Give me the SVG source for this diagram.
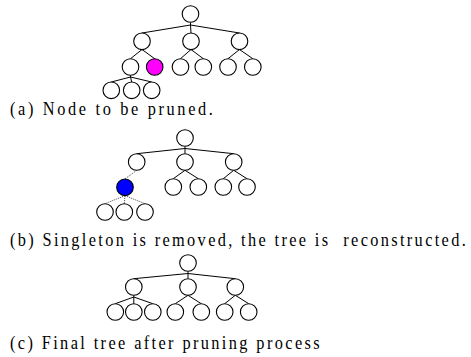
<svg xmlns="http://www.w3.org/2000/svg" width="471" height="357" viewBox="0 0 471 357">
<style>
.n{fill:#fff;stroke:#000;stroke-width:1.1}
.c line{stroke:#000;stroke-width:1}
.c line.d{stroke:#444;stroke-width:0.9;stroke-dasharray:1.2 1}
.cap{font-family:'Liberation Serif','Times New Roman',serif;font-size:19px;fill:#000}
</style>
<rect width="471" height="357" fill="#fff"/>
<g id="connectors" class="c">
<line x1="190.5" y1="22.5" x2="190.5" y2="25"/>
<line x1="190.5" y1="25" x2="142" y2="33"/>
<line x1="190.5" y1="25" x2="191" y2="33"/>
<line x1="190.5" y1="25" x2="239.5" y2="33"/>
<line x1="142" y1="49.5" x2="130.5" y2="58.7"/>
<line x1="142" y1="49.5" x2="154.7" y2="58.7"/>
<line x1="191" y1="49.5" x2="180.5" y2="58.7"/>
<line x1="191" y1="49.5" x2="203.3" y2="58.7"/>
<line x1="239.5" y1="49.5" x2="228" y2="58.7"/>
<line x1="239.5" y1="49.5" x2="252.8" y2="58.7"/>
<line x1="130.5" y1="75.3" x2="130.5" y2="77"/>
<line x1="130.5" y1="77" x2="111.3" y2="82"/>
<line x1="130.5" y1="77" x2="131.7" y2="82"/>
<line x1="130.5" y1="77" x2="151.7" y2="82"/>
<line x1="185" y1="146.3" x2="185" y2="148.5"/>
<line x1="185" y1="148.5" x2="136.7" y2="153.7"/>
<line x1="185" y1="148.5" x2="185" y2="153.7"/>
<line x1="185" y1="148.5" x2="233.7" y2="153.7"/>
<line class="d" x1="136.7" y1="170.3" x2="125" y2="179"/>
<line x1="185" y1="170.3" x2="173.3" y2="178.7"/>
<line x1="185" y1="170.3" x2="198.3" y2="178.7"/>
<line x1="233.7" y1="170.3" x2="223.3" y2="178.7"/>
<line x1="233.7" y1="170.3" x2="247" y2="178.7"/>
<line class="d" x1="125" y1="195.6" x2="105" y2="203.7"/>
<line class="d" x1="125" y1="195.6" x2="124.3" y2="203.7"/>
<line class="d" x1="125" y1="195.6" x2="145" y2="203.7"/>
<line x1="188" y1="271.3" x2="188" y2="273.5"/>
<line x1="188" y1="273.5" x2="133.8" y2="278.7"/>
<line x1="188" y1="273.5" x2="188" y2="278.7"/>
<line x1="188" y1="273.5" x2="235.3" y2="278.7"/>
<line x1="133.8" y1="295.3" x2="133.8" y2="297"/>
<line x1="133.8" y1="297" x2="115.3" y2="303.7"/>
<line x1="133.8" y1="297" x2="133.8" y2="303.7"/>
<line x1="133.8" y1="297" x2="152.8" y2="303.7"/>
<line x1="188" y1="295.3" x2="175.3" y2="303.7"/>
<line x1="188" y1="295.3" x2="201.3" y2="303.7"/>
<line x1="235.3" y1="295.3" x2="224.7" y2="303.7"/>
<line x1="235.3" y1="295.3" x2="248.7" y2="303.7"/>
</g>
<g id="a-root"><circle class="n" cx="190.5" cy="14" r="8.3"/></g>
<g id="a-l1"><circle class="n" cx="142" cy="41.3" r="8.3"/></g>
<g id="a-m1"><circle class="n" cx="191" cy="41.3" r="8.3"/></g>
<g id="a-r1"><circle class="n" cx="239.5" cy="41.3" r="8.3"/></g>
<g id="a-l2a"><circle class="n" cx="130.5" cy="67" r="8.3"/></g>
<g id="a-pruned"><circle class="n" cx="154.7" cy="67" r="8.3" style="fill:#ff00ff"/></g>
<g id="a-m2a"><circle class="n" cx="180.5" cy="67" r="8.3"/></g>
<g id="a-m2b"><circle class="n" cx="203.3" cy="67" r="8.3"/></g>
<g id="a-r2a"><circle class="n" cx="228" cy="67" r="8.3"/></g>
<g id="a-r2b"><circle class="n" cx="252.8" cy="67" r="8.3"/></g>
<g id="a-l3a"><circle class="n" cx="111.3" cy="90.3" r="8.3"/></g>
<g id="a-l3b"><circle class="n" cx="131.7" cy="90.3" r="8.3"/></g>
<g id="a-l3c"><circle class="n" cx="151.7" cy="90.3" r="8.3"/></g>
<text class="cap" font-family="Liberation Serif, serif" transform="translate(10,115) scale(0.86,1)" textLength="236" lengthAdjust="spacing">(a) Node to be pruned.</text>
<g id="b-root"><circle class="n" cx="185" cy="138" r="8.3"/></g>
<g id="b-l1"><circle class="n" cx="136.7" cy="162" r="8.3"/></g>
<g id="b-m1"><circle class="n" cx="185" cy="162" r="8.3"/></g>
<g id="b-r1"><circle class="n" cx="233.7" cy="162" r="8.3"/></g>
<g id="b-singleton"><circle class="n" cx="125" cy="187.3" r="8.3" style="fill:#0000ff"/></g>
<g id="b-m2a"><circle class="n" cx="173.3" cy="187" r="8.3"/></g>
<g id="b-m2b"><circle class="n" cx="198.3" cy="187" r="8.3"/></g>
<g id="b-r2a"><circle class="n" cx="223.3" cy="187" r="8.3"/></g>
<g id="b-r2b"><circle class="n" cx="247" cy="187" r="8.3"/></g>
<g id="b-l3a"><circle class="n" cx="105" cy="212" r="8.3"/></g>
<g id="b-l3b"><circle class="n" cx="124.3" cy="212" r="8.3"/></g>
<g id="b-l3c"><circle class="n" cx="145" cy="212" r="8.3"/></g>
<text class="cap" font-family="Liberation Serif, serif" transform="translate(10,246) scale(0.86,1)" textLength="530" lengthAdjust="spacing" xml:space="preserve">(b) Singleton is removed, the tree is  reconstructed.</text>
<g id="c-root"><circle class="n" cx="188" cy="263" r="8.3"/></g>
<g id="c-l1"><circle class="n" cx="133.8" cy="287" r="8.3"/></g>
<g id="c-m1"><circle class="n" cx="188" cy="287" r="8.3"/></g>
<g id="c-r1"><circle class="n" cx="235.3" cy="287" r="8.3"/></g>
<g id="c-l2a"><circle class="n" cx="115.3" cy="312" r="8.3"/></g>
<g id="c-l2b"><circle class="n" cx="133.8" cy="312" r="8.3"/></g>
<g id="c-l2c"><circle class="n" cx="152.8" cy="312" r="8.3"/></g>
<g id="c-m2a"><circle class="n" cx="175.3" cy="312" r="8.3"/></g>
<g id="c-m2b"><circle class="n" cx="201.3" cy="312" r="8.3"/></g>
<g id="c-r2a"><circle class="n" cx="224.7" cy="312" r="8.3"/></g>
<g id="c-r2b"><circle class="n" cx="248.7" cy="312" r="8.3"/></g>
<text class="cap" font-family="Liberation Serif, serif" transform="translate(10,349) scale(0.86,1)" textLength="360" lengthAdjust="spacing">(c) Final tree after pruning process</text>
</svg>
